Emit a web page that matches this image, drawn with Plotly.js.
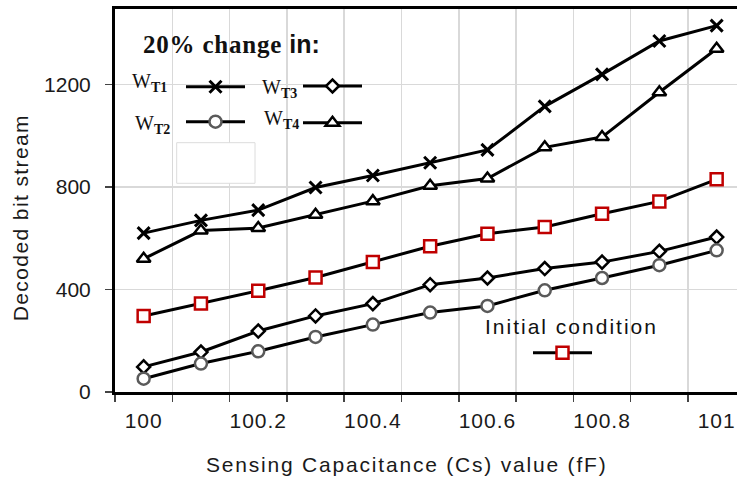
<!DOCTYPE html>
<html>
<head>
<meta charset="utf-8">
<script src="https://cdn.plot.ly/plotly-3.0.1.min.js"></script>
<style>
  html, body { margin: 0; padding: 0; background: #fff; }
  #chart { width: 737px; height: 480px; }
</style>
</head>
<body>
<div id="chart"></div>
<script>
// ---- data ----
const categories = [100, 100.1, 100.2, 100.3, 100.4, 100.5, 100.6, 100.7, 100.8, 100.9, 101];
const wt1 = [620, 670, 710, 798, 845, 895, 945, 1115, 1240, 1370, 1430];
const wt2 = [52, 111, 159, 215, 263, 310, 336, 397, 445, 495, 553];
const wt3 = [98, 156, 238, 297, 345, 419, 445, 482, 507, 549, 605];
const wt4 = [520, 630, 640, 692, 745, 805, 833, 955, 995, 1170, 1340];
const initial = [297, 345, 395, 447, 507, 569, 618, 644, 696, 744, 830];
const xTickVals = [100, 100.2, 100.4, 100.6, 100.8, 101];
const xTickText = ['100', '100.2', '100.4', '100.6', '100.8', '101'];
const yTickVals = [0, 400, 800, 1200];
const yTickText = ['0', '400', '800', '1200'];

// ---- layout geometry ----
const W = 737, H = 480;
const M = {l: 115, r: 0, t: 9, b: 88};
const PW = W - M.l - M.r, PH = H - M.t - M.b;
const px2x = p => (p - M.l) / PW;
const px2y = p => (H - M.b - p) / PH;

const SANS = 'Liberation Sans, Arial, sans-serif';
const SERIF = 'Liberation Serif, Times New Roman, serif';

// legend boxes hold only the key symbols; their labels are drawn as annotations
function legendAt(lineStartPx, yPx) {
  return {
    x: px2x(lineStartPx - 5), y: px2y(yPx), xanchor: 'left', yanchor: 'middle',
    bgcolor: 'rgba(0,0,0,0)', borderwidth: 0, itemwidth: 59,
    font: {size: 10, color: '#111'}, itemclick: false, itemdoubleclick: false
  };
}

const lineStyle = {color: '#000', width: 3};
const traces = [
  {x: categories, y: wt1, name: '', legend: 'legend', mode: 'lines+markers', line: lineStyle,
   marker: {symbol: 'x-thin-open', size: 12, color: '#000', line: {color: '#000', width: 3}}},
  {x: categories, y: wt4, name: '', legend: 'legend4', mode: 'lines+markers', line: lineStyle,
   marker: {symbol: 'triangle-up', size: 12, color: '#fff', line: {color: '#000', width: 2.5}}},
  {x: categories, y: initial, name: '', legend: 'legend5', mode: 'lines+markers', line: lineStyle,
   marker: {symbol: 'square', size: 12, color: '#fff', line: {color: '#c00000', width: 2.5}}},
  {x: categories, y: wt3, name: '', legend: 'legend3', mode: 'lines+markers', line: lineStyle,
   marker: {symbol: 'diamond', size: 10, color: '#fff', line: {color: '#000', width: 2.5}}},
  {x: categories, y: wt2, name: '', legend: 'legend2', mode: 'lines+markers', line: lineStyle,
   marker: {symbol: 'circle', size: 12, color: '#fff', line: {color: '#5a5a5a', width: 2.5}}}
];

const sp = (t, s) => '<span style="letter-spacing:' + s + 'px">' + t + '</span>';

function note(xPx, yPx, text, font, extra) {
  return Object.assign({xref: 'paper', yref: 'paper', x: px2x(xPx), y: px2y(yPx),
    xanchor: 'center', yanchor: 'middle', showarrow: false, text: text, font: font}, extra || {});
}

const layout = {
  width: W, height: H, margin: M,
  paper_bgcolor: '#fff', plot_bgcolor: '#fff',
  showlegend: true,
  font: {family: SANS, color: '#1a1a1a', size: 21},
  xaxis: {
    range: [99.95, 99.95 + PW / 573],
    tickmode: 'array', tickvals: xTickVals, ticktext: xTickText.map(t => sp(t, 1)),
    ticks: '', showgrid: false, zeroline: false,
    showline: true, linecolor: '#000', linewidth: 3, mirror: true,
    tickfont: {family: SANS, size: 21, color: '#1a1a1a'},
    ticklabelstandoff: 8,
    minor: {tickmode: 'linear', tick0: 99.95, dtick: 0.1, ticks: 'outside', ticklen: 7,
            tickwidth: 1.5, tickcolor: '#444', showgrid: true, gridcolor: '#d9d9d9', gridwidth: 1.5}
  },
  yaxis: {
    range: [0, 1495],
    tickmode: 'array', tickvals: yTickVals, ticktext: yTickText,
    ticks: 'outside', ticklen: 7, tickwidth: 1.5, tickcolor: '#444',
    showgrid: true, gridcolor: '#d9d9d9', gridwidth: 1.5, zeroline: false,
    showline: true, linecolor: '#000', linewidth: 3, mirror: false,
    tickfont: {family: SANS, size: 21, color: '#1a1a1a'},
    ticklabelstandoff: 10
  },
  legend: legendAt(186, 86.7),
  legend2: legendAt(186, 121.7),
  legend3: legendAt(303, 86),
  legend4: legendAt(303, 122.7),
  legend5: legendAt(533, 352.7),
  shapes: [
    {type: 'rect', xref: 'paper', yref: 'paper', x0: px2x(176.7), x1: px2x(255), y0: px2y(183.3), y1: px2y(142.7),
     fillcolor: '#fff', line: {color: '#dcdcdc', width: 1}, layer: 'above'}
  ],
  annotations: [
    note(21.3, 218, sp('Decoded bit stream', 1.4), {family: SANS, size: 21, color: '#1a1a1a'}, {textangle: -90}),
    note(406, 464, sp('Sensing Capacitance (Cs) value (fF)', 1.8), {family: SANS, size: 21, color: '#1a1a1a'}),
    note(571, 326, sp('Initial condition', 2), {family: SANS, size: 21, color: '#111'}),
    note(141, 44, '<b>' + sp('20% change ', 0.8) + '<span style="font-family:\'Liberation Sans\', Arial">in:</span></b>',
         {family: SERIF, size: 25, color: '#111'}, {xanchor: 'left'}),
    note(130, 82.5, 'W<sub><b>T1</b></sub>', {family: SERIF, size: 20, color: '#111'}, {xanchor: 'left'}),
    note(133, 125, 'W<sub><b>T2</b></sub>', {family: SERIF, size: 20, color: '#111'}, {xanchor: 'left'}),
    note(260, 88.5, 'W<sub><b>T3</b></sub>', {family: SERIF, size: 20, color: '#111'}, {xanchor: 'left'}),
    note(262, 119, 'W<sub><b>T4</b></sub>', {family: SERIF, size: 20, color: '#111'}, {xanchor: 'left'})
  ]
};

Plotly.newPlot('chart', traces, layout, {staticPlot: true, displayModeBar: false});
</script>
</body>
</html>
